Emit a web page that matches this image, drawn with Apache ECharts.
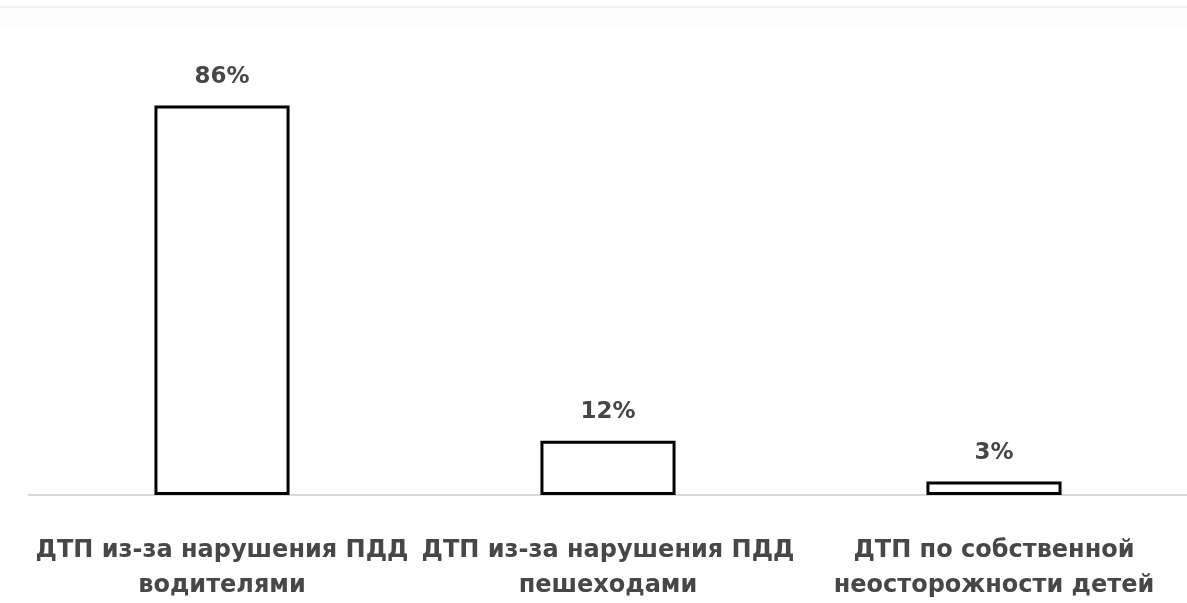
<!DOCTYPE html>
<html>
<head>
<meta charset="utf-8">
<script src="https://cdn.jsdelivr.net/npm/echarts@6/dist/echarts.min.js"></script>
<style>
  html, body { margin: 0; padding: 0; background: #fff; }
  #chart { width: 1187px; height: 603px; }
</style>
</head>
<body>
<div id="chart"></div>
<script>
// Causes of road accidents involving children (share, %)
const categories = [
  'ДТП из-за нарушения ПДД\nводителями',
  'ДТП из-за нарушения ПДД\nпешеходами',
  'ДТП по собственной\nнеосторожности детей'
];
const shares = [86, 12, 3];

const chart = echarts.init(document.getElementById('chart'));
chart.setOption({
  animation: false,
  backgroundColor: '#ffffff',
  graphic: [
    { type: 'rect', shape: { x: 0, y: 7, width: 1187, height: 18 }, style: { fill: '#fbfbfb' }, silent: true },
    { type: 'line', shape: { x1: 0, y1: 7, x2: 1187, y2: 7 }, style: { stroke: '#ececec', lineWidth: 1.5 }, silent: true }
  ],
  grid: { left: 29, right: 0, top: 42, bottom: 107, containLabel: false },
  xAxis: {
    type: 'category',
    data: categories,
    axisLine: { show: true, lineStyle: { color: '#d9d9d9', width: 2 } },
    axisTick: { show: false },
    axisLabel: {
      interval: 0,
      margin: 38,
      color: '#474747',
      fontFamily: 'DejaVu Sans',
      fontWeight: 'bold',
      fontSize: 24,
      lineHeight: 35
    }
  },
  yAxis: {
    type: 'value',
    min: 0,
    max: 100,
    show: false,
    splitLine: { show: false }
  },
  series: [{
    type: 'bar',
    data: shares,
    barWidth: '35%',
    itemStyle: { color: '#ffffff', borderColor: '#000000', borderWidth: 3 },
    label: {
      show: true,
      position: 'top',
      distance: 17,
      formatter: '{c}%',
      color: '#474747',
      fontFamily: 'DejaVu Sans',
      fontWeight: 'bold',
      fontSize: 23
    }
  }]
});
</script>
</body>
</html>
